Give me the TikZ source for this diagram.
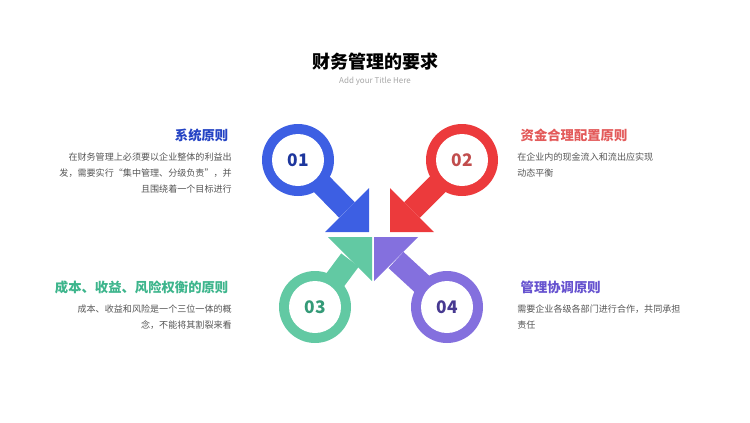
\documentclass[tikz,border=0pt]{standalone}
\usepackage{fontspec}
\setmainfont{Noto Sans CJK SC}
\newfontfamily\cjkbold{Noto Sans CJK SC Bold}
\usetikzlibrary{positioning}
\definecolor{armblue}{HTML}{3D5FE3}
\definecolor{armred}{HTML}{EC3A3C}
\definecolor{armgreen}{HTML}{62C9A3}
\definecolor{armpurple}{HTML}{8470DE}
\definecolor{headblue}{HTML}{2443C4}
\definecolor{headred}{HTML}{E35B5B}
\definecolor{headgreen}{HTML}{3DB58C}
\definecolor{headpurple}{HTML}{6652CF}
\definecolor{bodygray}{HTML}{555555}
\tikzset{
  ring/.style = {circle, fill=#1, minimum size=54, inner sep=0},
  hole/.style = {circle, fill=white, minimum size=39, inner sep=0, font=\fontsize{13}{13}\selectfont\bfseries},
  shaft/.style = {#1, line width=16.5pt},
  heading/.style = {font=\fontsize{10}{12}\selectfont\bfseries, text=#1},
  body/.style = {font=\fontsize{6.8}{12}\selectfont, text=bodygray, inner sep=0}
}
\begin{document}
\begin{tikzpicture}[x=0.75pt, y=-0.75pt]
  \useasboundingbox (0,0) rectangle (750,422);

  % title
  \node [font=\fontsize{13.5}{14}\selectfont\bfseries] (title) at (375,62) {财务管理的要求};
  \node [font=\fontsize{6}{7}\selectfont, text=black!35] (sub) at (375,81) {Add your Title Here};

  % arms: shaft, head, ring
  \coordinate (s1) at (347,210);
  \coordinate (s2) at (412,210);
  \coordinate (s3) at (350,260);
  \coordinate (s4) at (396,260);
  \draw [shaft=armblue] (298,160) -- (s1);
  \draw [shaft=armred] (462,160) -- (s2);
  \draw [shaft=armgreen] (315,307) -- (s3);
  \draw [shaft=armpurple] (447,307) -- (s4);
  \fill [armblue] (369,232) -- (369,188) -- (325,232) -- cycle;
  \fill [armred] (390,232) -- (390,188) -- (434,232) -- cycle;
  \fill [armgreen] (372,237) -- (372,281) -- (328,237) -- cycle;
  \fill [armpurple] (374,237) -- (374,281) -- (418,237) -- cycle;

  \node [ring=armblue] (r1) at (298,160) {};
  \node [ring=armred] (r2) at (462,160) {};
  \node [ring=armgreen] (r3) at (315,307) {};
  \node [ring=armpurple] (r4) at (447,307) {};
  \node [hole, text=headblue!80!black] (n1) at (r1) {01};
  \node [hole, text=headred!85!black] (n2) at (r2) {02};
  \node [hole, text=headgreen!85!black] (n3) at (r3) {03};
  \node [hole, text=headpurple!70!black] (n4) at (r4) {04};

  % texts left
  \node [heading=headblue, anchor=east] (h1) at (233,135) {系统原则};
  \node [body, anchor=north east, align=right] (b1) at (232,153) {在财务管理上必须要以企业整体的利益出\\发，需要实行“集中管理、分级负责”，并\\且围绕着一个目标进行};
  \node [heading=headgreen, anchor=east] (h3) at (233,287) {成本、收益、风险权衡的原则};
  \node [body, anchor=north east, align=right] (b3) at (232,305) {成本、收益和风险是一个三位一体的概\\念，不能将其割裂来看};

  % texts right
  \node [heading=headred, anchor=west] (h2) at (516,135) {资金合理配置原则};
  \node [body, anchor=north west, align=left] (b2) at (517,153) {在企业内的现金流入和流出应实现\\动态平衡};
  \node [heading=headpurple, anchor=west] (h4) at (516,287) {管理协调原则};
  \node [body, anchor=north west, align=left] (b4) at (517,305) {需要企业各级各部门进行合作，共同承担\\责任};
\end{tikzpicture}
\end{document}
